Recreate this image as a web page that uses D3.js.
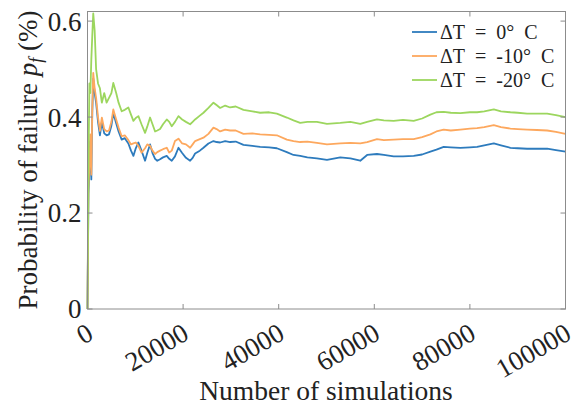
<!DOCTYPE html>
<html>
<head>
<meta charset="utf-8">
<script src="https://cdn.jsdelivr.net/npm/d3@7"></script>
<style>
  body { margin: 0; background: #fff; }
  text { font-family: "Liberation Serif", "DejaVu Serif", serif; fill: #222; }
</style>
</head>
<body>
<script>
// number of simulations (shared x grid)
const nSims = [0, 200, 400, 600, 800, 1000, 1200, 1500, 1800, 2200, 2600, 3000, 3500, 4000, 4500, 5000,
  5400, 6000, 6500, 7150, 7800, 8550, 9100, 9600, 10100, 10650, 11300, 12040, 12500, 13090, 13600,
  14140, 14600, 15180, 15800, 16580, 17100, 17630, 18300, 19030, 19800, 20600, 21470, 22000, 22510,
  23500, 24260, 25300, 26350, 27000, 27750, 28800, 29840, 31000, 32630, 34500, 36120, 38000, 39610,
  41700, 43100, 44500, 46000, 47990, 50100, 52880, 55000, 57070, 58500, 60560, 62000, 64050, 66000,
  68240, 70000, 71730, 73000, 74520, 76000, 78010, 80000, 81500, 83000, 85000, 86500, 88480, 90000,
  91970, 94000, 96160, 98000, 100000];

const pf0 = [0, 0.24, 0.29, 0.35, 0.27, 0.41, 0.48, 0.45, 0.43, 0.39, 0.362, 0.39, 0.366, 0.362, 0.364, 0.382,
  0.408, 0.387, 0.37, 0.353, 0.356, 0.345, 0.33, 0.319, 0.335, 0.347, 0.33, 0.309, 0.325, 0.343, 0.325,
  0.313, 0.309, 0.312, 0.316, 0.319, 0.313, 0.309, 0.318, 0.336, 0.325, 0.315, 0.309, 0.315, 0.324,
  0.33, 0.336, 0.345, 0.35, 0.348, 0.347, 0.35, 0.348, 0.349, 0.342, 0.34, 0.338, 0.337, 0.335,
  0.327, 0.321, 0.319, 0.316, 0.314, 0.311, 0.316, 0.314, 0.309, 0.321, 0.323, 0.321, 0.318, 0.318,
  0.319, 0.322, 0.328, 0.332, 0.338, 0.337, 0.336, 0.337, 0.338, 0.341, 0.345, 0.341, 0.336, 0.335,
  0.334, 0.334, 0.334, 0.331, 0.328];

const pf10 = [0, 0.253, 0.30, 0.364, 0.28, 0.42, 0.492, 0.46, 0.44, 0.40, 0.371, 0.399, 0.375, 0.37, 0.372, 0.39,
  0.416, 0.395, 0.378, 0.36, 0.362, 0.352, 0.343, 0.345, 0.347, 0.34, 0.326, 0.335, 0.343, 0.34, 0.33,
  0.323, 0.327, 0.33, 0.333, 0.336, 0.326, 0.33, 0.35, 0.355, 0.345, 0.343, 0.336, 0.343, 0.35,
  0.354, 0.357, 0.365, 0.378, 0.375, 0.37, 0.374, 0.372, 0.372, 0.365, 0.366, 0.364, 0.363, 0.362,
  0.353, 0.35, 0.348, 0.349, 0.346, 0.343, 0.345, 0.346, 0.345, 0.348, 0.354, 0.352, 0.353, 0.354,
  0.354, 0.358, 0.364, 0.37, 0.374, 0.372, 0.374, 0.376, 0.377, 0.379, 0.383, 0.379, 0.376, 0.375,
  0.374, 0.373, 0.372, 0.369, 0.365];

const pf20 = [0, 0.30, 0.47, 0.45, 0.52, 0.57, 0.616, 0.58, 0.50, 0.47, 0.46, 0.43, 0.45, 0.43, 0.44, 0.45,
  0.471, 0.45, 0.43, 0.412, 0.415, 0.42, 0.405, 0.392, 0.398, 0.402, 0.385, 0.367, 0.38, 0.399, 0.385,
  0.37, 0.372, 0.375, 0.385, 0.395, 0.39, 0.381, 0.39, 0.402, 0.395, 0.39, 0.385, 0.39, 0.395,
  0.403, 0.409, 0.419, 0.43, 0.425, 0.419, 0.424, 0.42, 0.422, 0.415, 0.412, 0.409, 0.41, 0.407,
  0.399, 0.393, 0.388, 0.39, 0.39, 0.386, 0.388, 0.39, 0.386, 0.39, 0.395, 0.393, 0.392, 0.394,
  0.392, 0.397, 0.405, 0.41, 0.411, 0.409, 0.408, 0.41, 0.41, 0.412, 0.416, 0.412, 0.41, 0.409,
  0.407, 0.407, 0.407, 0.404, 0.400];

const seriesNames = ["ΔT\u2002=\u20020°\u2002C", "ΔT\u2002=\u2002-10°\u2002C", "ΔT\u2002=\u2002-20°\u2002C"];
const seriesColors = ["#2d7bbd", "#fda85e", "#9cd65e"];
const xTicks = [0, 20000, 40000, 60000, 80000, 100000];
const yTicks = [0, 0.2, 0.4, 0.6];

const width = 579, height = 406;
const margin = {left: 87.5, right: 13.5, top: 11.5, bottom: 97};
const fs = 27;

const svg = d3.select("body").append("svg")
    .attr("width", width)
    .attr("height", height);

const x = d3.scaleLinear()
    .domain([0, 100000])
    .range([margin.left, width - margin.right]);

const y = d3.scaleLinear()
    .domain([0, 0.62])
    .range([height - margin.bottom, margin.top]);

const axisColor = "#8c8c8c";

// series lines
const line = d3.line()
    .x((d, i) => x(nSims[i]))
    .y(d => y(d));

[pf0, pf10, pf20].forEach((vals, i) => {
    svg.append("path")
        .attr("d", line(vals))
        .attr("fill", "none")
        .attr("stroke", seriesColors[i])
        .attr("stroke-width", 1.8)
        .attr("stroke-linejoin", "round");
});

// box
svg.append("rect")
    .attr("x", x(0))
    .attr("y", y(0.62))
    .attr("width", x(100000) - x(0))
    .attr("height", y(0) - y(0.62))
    .attr("fill", "none")
    .attr("stroke", axisColor)
    .attr("stroke-width", 1);

// inward ticks on all four sides
const tickLen = 5;
xTicks.forEach(t => {
    svg.append("line").attr("x1", x(t)).attr("x2", x(t))
        .attr("y1", y(0)).attr("y2", y(0) - tickLen).attr("stroke", axisColor);
    svg.append("line").attr("x1", x(t)).attr("x2", x(t))
        .attr("y1", y(0.62)).attr("y2", y(0.62) + tickLen).attr("stroke", axisColor);
});
yTicks.forEach(t => {
    svg.append("line").attr("x1", x(0)).attr("x2", x(0) + tickLen)
        .attr("y1", y(t)).attr("y2", y(t)).attr("stroke", axisColor);
    svg.append("line").attr("x1", x(100000)).attr("x2", x(100000) - tickLen)
        .attr("y1", y(t)).attr("y2", y(t)).attr("stroke", axisColor);
});

// tick labels
svg.selectAll(".ylab")
    .data(yTicks)
    .enter().append("text")
    .attr("x", x(0) - 6)
    .attr("y", d => y(d))
    .attr("dy", "0.35em")
    .attr("text-anchor", "end")
    .attr("font-size", fs)
    .text(d => d === 0 ? "0" : d.toFixed(1));

svg.selectAll(".xlab")
    .data(xTicks)
    .enter().append("text")
    .attr("transform", d => `translate(${x(d) - 2},${y(0) + 13}) rotate(-30)`)
    .attr("dy", "0.7em")
    .attr("text-anchor", "end")
    .attr("font-size", fs)
    .text(d => d);

// axis titles
svg.append("text")
    .attr("x", 326)
    .attr("y", 400)
    .attr("text-anchor", "middle")
    .attr("font-size", fs + 0.5)
    .text("Number of simulations");

const yTitle = svg.append("text")
    .attr("transform", "translate(37,160) rotate(-90)")
    .attr("text-anchor", "middle")
    .attr("font-size", fs);
yTitle.append("tspan").text("Probability of failure ");
yTitle.append("tspan").attr("font-style", "italic").text("p");
yTitle.append("tspan").attr("font-style", "italic").attr("font-size", 18).attr("dy", 5).text("f");
yTitle.append("tspan").attr("dy", -5).text(" (%)");

// legend
const legend = svg.append("g");
seriesNames.forEach((name, i) => {
    const ly = 32 + i * 24;
    legend.append("line")
        .attr("x1", 412).attr("x2", 437)
        .attr("y1", ly).attr("y2", ly)
        .attr("stroke", seriesColors[i])
        .attr("stroke-width", 1.8);
    legend.append("text")
        .attr("x", 440)
        .attr("y", ly)
        .attr("dy", "0.35em")
        .attr("font-size", 20)
        .text(name);
});
</script>
</body>
</html>
